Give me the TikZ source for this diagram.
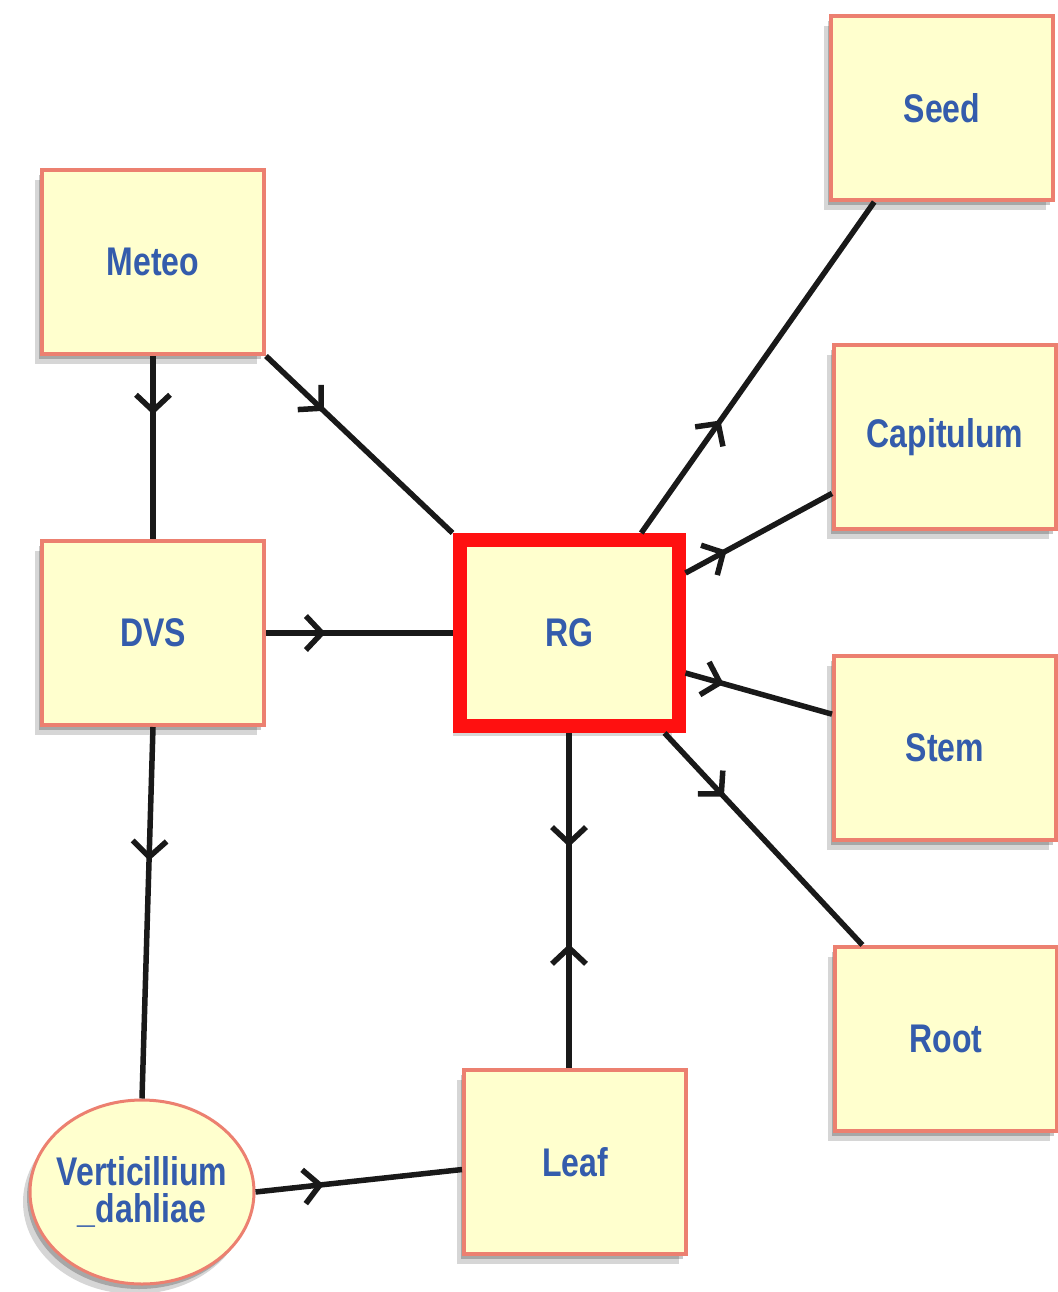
\documentclass[tikz,border=0pt]{standalone}
\usepackage{fontspec}
\setmainfont{Liberation Sans}
\usetikzlibrary{arrows.meta,decorations.markings,shadows,calc,shapes.geometric}
\definecolor{boxfill}{RGB}{255,255,206}
\definecolor{boxline}{RGB}{236,128,112}
\definecolor{txtblue}{RGB}{52,92,172}
\definecolor{rgred}{RGB}{255,16,16}
\newcommand{\lbl}[1]{\scalebox{0.8}[1]{#1}}
\begin{document}
\begin{tikzpicture}[x=1pt,y=-1pt,
  shade2/.style={drop shadow={shadow xshift=-3pt,shadow yshift=-5pt,opacity=0.22,fill=black},
                 drop shadow={shadow xshift=-7pt,shadow yshift=-10pt,opacity=0.16,fill=black}},
  box/.style={shade2,draw=boxline,line width=4pt,fill=boxfill,rectangle,
    minimum width=222pt,minimum height=184pt,inner sep=0pt,
    text=txtblue,font=\fontsize{40}{37}\selectfont\bfseries,align=center},
  oval/.style={box,ellipse,line width=3pt,inner xsep=-8pt,minimum width=224pt,minimum height=184pt},
  rgbox/.style={box,draw=rgred,line width=14pt,minimum width=219pt,minimum height=186pt},
  conn/.style={line width=5.5pt,black!90},
  midarrow/.style={postaction={decorate},decoration={markings,
    mark=at position #1 with {\arrow{Straight Barb[length=16pt,width=34pt,line width=5.5pt]}}}}
]
\useasboundingbox (0,0) rectangle (1057,1292);
\node[box] (Meteo) at (153,262) {\lbl{Meteo}};
\node[box] (DVS) at (153,633) {\lbl{DVS}};
\node[rgbox] (RG) at (569,633) {\lbl{RG}};
\node[box] (Seed) at (942,108) {\lbl{Seed}};
\node[box] (Cap) at (945,437) {\lbl{Capitulum}};
\node[box] (Stem) at (945,748) {\lbl{Stem}};
\node[box] (Root) at (946,1039) {\lbl{Root}};
\node[box] (Leaf) at (575,1162) {\lbl{Leaf}};
\node[oval] (Vert) at (142,1192) {\lbl{Verticillium}\\\lbl{\_dahliae}};

\draw[conn,midarrow=0.32] (Meteo.south) -- (DVS.north);
\draw[conn,midarrow=0.31] (Meteo.south east) -- (RG.north west);
\draw[conn,midarrow=0.32] (DVS.east) -- (RG.west);
\draw[conn,midarrow=0.36] (DVS.south) -- (Vert.north);
\draw[conn,midarrow=0.33] (Vert.east) -- ($(Leaf.north west)!0.54!(Leaf.south west)$);
\draw[conn,midarrow=0.34] (RG.south) -- (RG.south |- Leaf.north);
\draw[conn,midarrow=0.37] (RG.south |- Leaf.north) -- (RG.south);
\draw[conn,midarrow=0.34] ($(RG.north west)!0.81!(RG.north east)$) -- ($(Seed.south west)!0.2!(Seed.south east)$);
\draw[conn,midarrow=0.28] ($(RG.north east)!0.2!(RG.south east)$) -- ($(Cap.north west)!0.8!(Cap.south west)$);
\draw[conn,midarrow=0.26] ($(RG.north east)!0.7!(RG.south east)$) -- ($(Stem.north west)!0.32!(Stem.south west)$);
\draw[conn,midarrow=0.30] ($(RG.south west)!0.91!(RG.south east)$) -- ($(Root.north west)!0.13!(Root.north east)$);
\end{tikzpicture}
\end{document}
